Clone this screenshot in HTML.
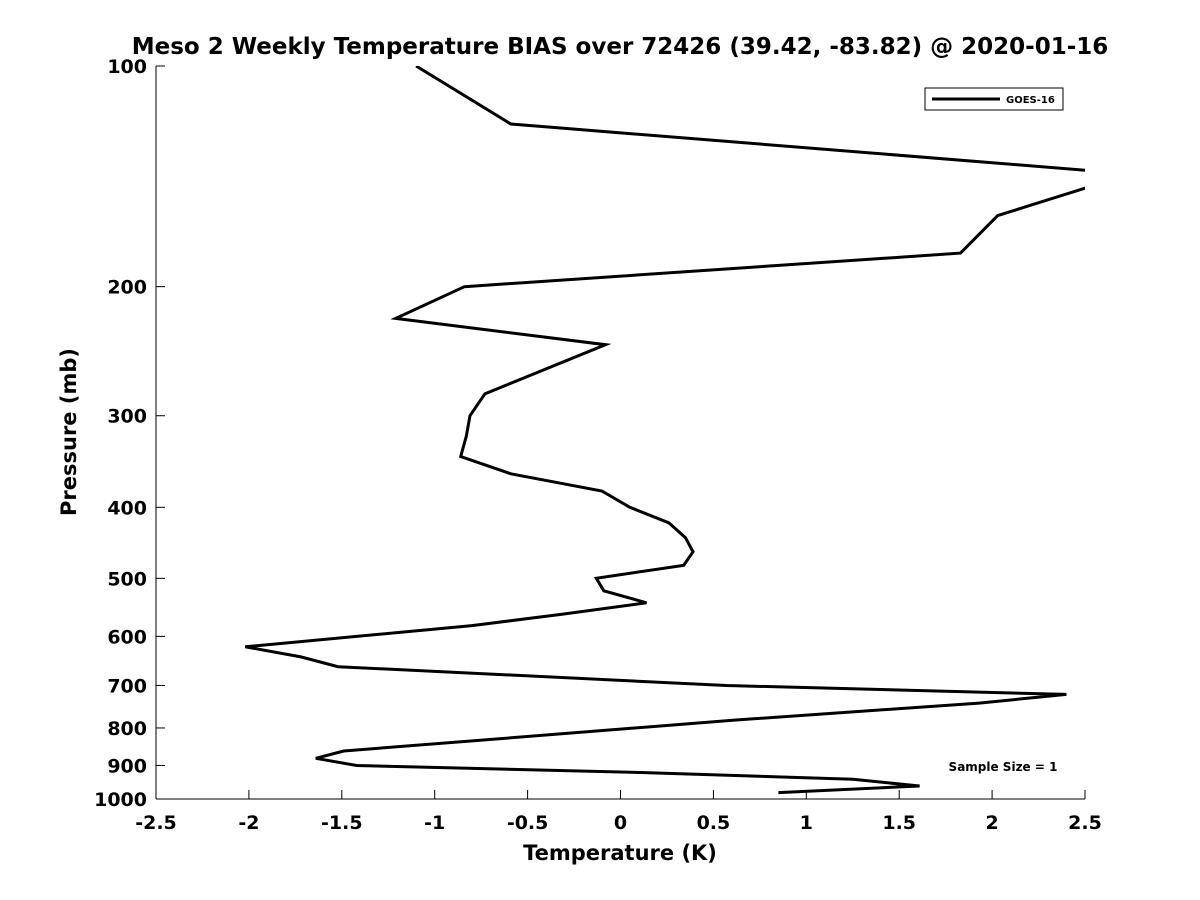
<!DOCTYPE html>
<html><head><meta charset="utf-8"><style>
body{margin:0;background:#fff;}
svg{display:block;font-family:"DejaVu Sans","Liberation Sans",sans-serif;}
</style></head><body>
<svg width="1200" height="900">
<defs><clipPath id="plotclip"><rect x="156" y="66" width="929" height="733"/></clipPath></defs>
<rect x="0" y="0" width="1200" height="900" fill="#fff"/>
<text x="620" y="54" text-anchor="middle" font-size="23" font-weight="bold" fill="#000">Meso 2 Weekly Temperature BIAS over 72426 (39.42, -83.82) @ 2020-01-16</text>
<g id="axes"></g>
<g id="series" clip-path="url(#plotclip)"></g>
<g>
<rect x="925" y="88" width="138" height="22" fill="#fff" stroke="#000" stroke-width="1"/>
<line x1="932" y1="99" x2="1000" y2="99" stroke="#000" stroke-width="3"/>
<text x="1006" y="103" font-size="10" font-weight="bold">GOES-16</text>
</g>
<text x="1003" y="771" text-anchor="middle" font-size="12" font-weight="bold">Sample Size = 1</text>
<text x="620" y="860" text-anchor="middle" font-size="21" font-weight="bold">Temperature (K)</text>
<text transform="translate(76,432) rotate(-90)" text-anchor="middle" font-size="21" font-weight="bold">Pressure (mb)</text>
</svg>
<script>
const biasValues=[-1.10,-0.59,2.74,2.50,2.03,1.83,-0.84,-1.21,-0.08,-0.73,-0.81,-0.83,-0.86,-0.59,-0.10,0.05,0.26,0.35,0.39,0.34,-0.13,-0.09,0.14,-0.32,-0.80,-2.02,-1.72,-1.52,0.57,2.40,1.93,0.63,-1.49,-1.64,-1.42,0.11,1.25,1.61,0.85];
const pressureLevels=[100,120,140.3,146.8,160,180,200,221,240,280,300,320,341,360,380,400,420,440,460,480,500,520,540,560,580,620,640,660,700,720,740,780,860,880,900,920,940,960,980];
const xTicks=[-2.5,-2,-1.5,-1,-0.5,0,0.5,1,1.5,2,2.5];
const yTicks=[100,200,300,400,500,600,700,800,900,1000];
const NS="http://www.w3.org/2000/svg";
const X0=156,X1=1085,Y0=66,Y1=799;
function xs(v){return X0+(v+2.5)/5*(X1-X0);}
function ys(p){return Y0+Math.log10(p/100)*(Y1-Y0);}
const ax=document.getElementById('axes');
function mk(t,a){const e=document.createElementNS(NS,t);for(const k in a)e.setAttribute(k,a[k]);return e;}
let e=mk('line',{x1:X0,y1:Y0,x2:X0,y2:Y1,stroke:'#000','stroke-width':1});


ax.appendChild(e);
e=mk('line',{x1:X0,y1:Y1,x2:X1,y2:Y1,stroke:'#000','stroke-width':1});


ax.appendChild(e);
xTicks.forEach(v=>{
 const t=mk('line',{x1:xs(v),y1:Y1,x2:xs(v),y2:Y1-9,stroke:'#000'});
 
 
 ax.appendChild(t);
 const l=mk('text',{x:xs(v),y:Y1+30,'text-anchor':'middle','font-size':19,'font-weight':'bold'});
 l.textContent=String(v);
 
 
 ax.appendChild(l);
});
yTicks.forEach(p=>{
 const t=mk('line',{x1:X0,y1:ys(p),x2:X0+9,y2:ys(p),stroke:'#000'});
 
 
 ax.appendChild(t);
 const l=mk('text',{x:X0-9,y:ys(p)+7,'text-anchor':'end','font-size':19,'font-weight':'bold'});
 l.textContent=String(p);
 
 
 ax.appendChild(l);
});
const pts=biasValues.map((v,i)=>xs(v).toFixed(1)+','+ys(pressureLevels[i]).toFixed(1)).join(' ');
const pl=mk('polyline',{points:pts,fill:'none',stroke:'#000','stroke-width':3,'stroke-linejoin':'miter'});


document.getElementById('series').appendChild(pl);
</script>
</body></html>
